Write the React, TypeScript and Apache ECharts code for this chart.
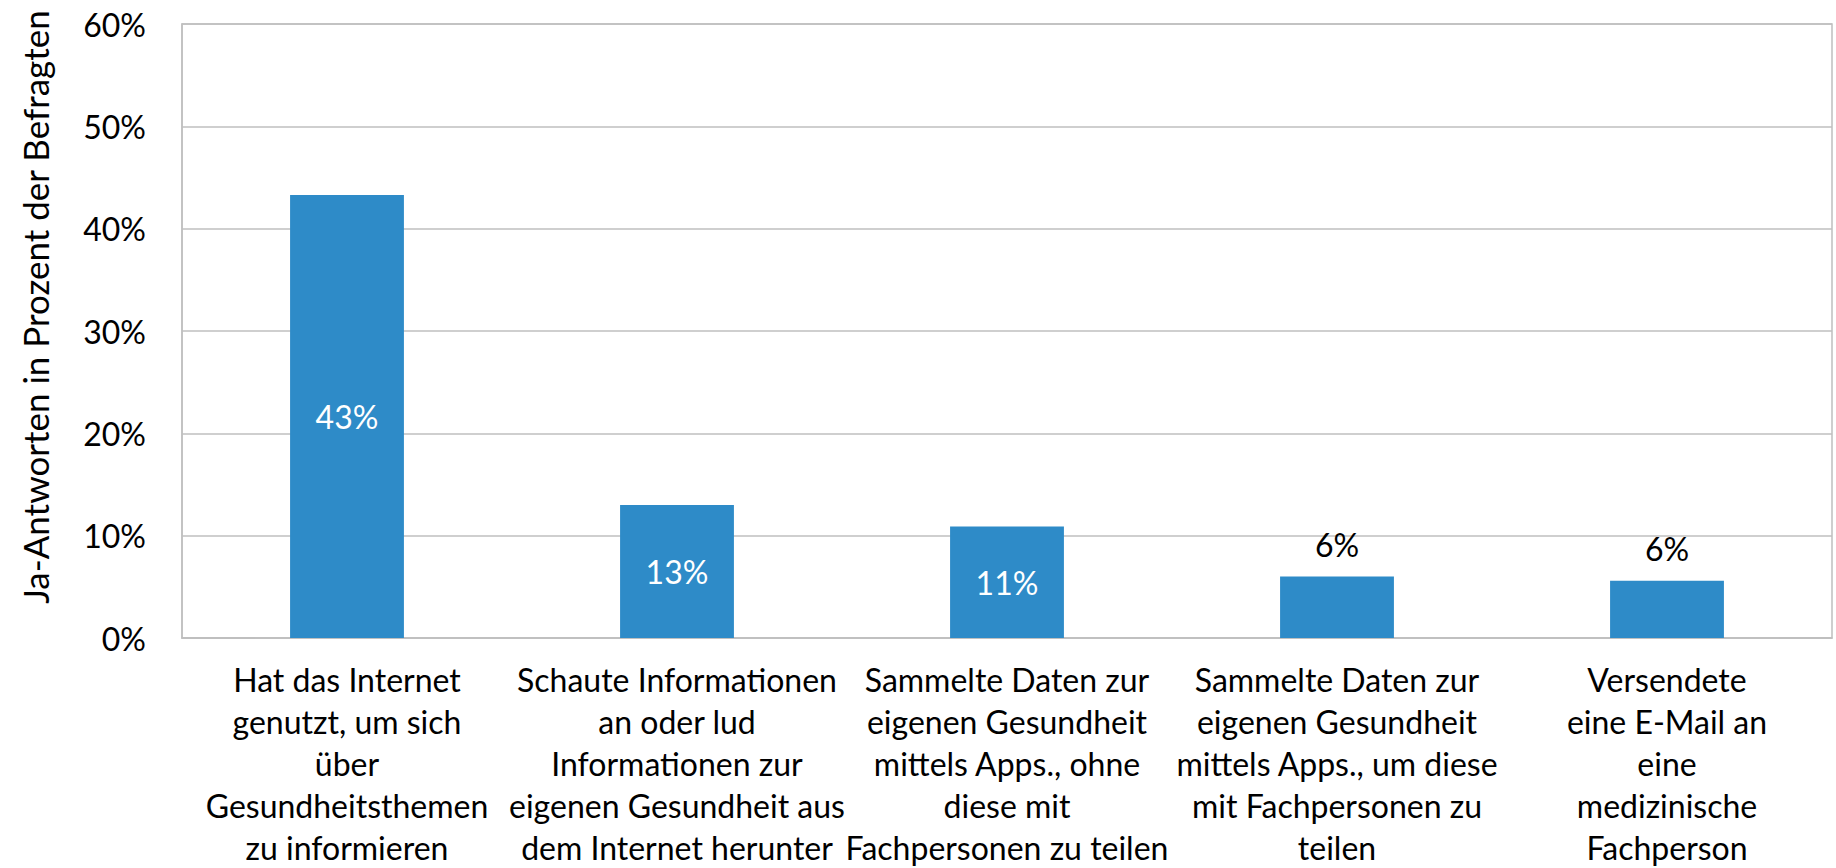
import React, { useEffect, useRef } from "react";
import * as echarts from "echarts";

const categories: string[] = [
  "Hat das Internet\ngenutzt, um sich\nüber\nGesundheitsthemen\nzu informieren",
  "Schaute Informationen\nan oder lud\nInformationen zur\neigenen Gesundheit aus\ndem Internet herunter",
  "Sammelte Daten zur\neigenen Gesundheit\nmittels Apps., ohne\ndiese mit\nFachpersonen zu teilen",
  "Sammelte Daten zur\neigenen Gesundheit\nmittels Apps., um diese\nmit Fachpersonen zu\nteilen",
  "Versendete\neine E-Mail an\neine\nmedizinische\nFachperson",
];

const values: number[] = [43.3, 13.0, 10.9, 6.0, 5.6];

const yTicks = { min: 0, max: 60, interval: 10 };

const yAxisTitle = "Ja-Antworten in Prozent der Befragten";

const FONT = "Lato, 'Open Sans', sans-serif";

export default function App() {
  const ref = useRef<HTMLDivElement>(null);

  useEffect(() => {
    if (!ref.current) return;
    const chart = echarts.init(ref.current, undefined, { renderer: "svg" });
    const data = values.map((v) => {
      const inside = v > 8;
      return {
        value: v,
        label: inside
          ? { position: "inside", color: "#ffffff" }
          : { position: "top", color: "#000000", distance: 16 },
      };
    });
    chart.setOption({
      animation: false,
      backgroundColor: "#ffffff",
      grid: {
        left: 182,
        right: 4,
        top: 24,
        bottom: 225,
        show: true,
        borderColor: "#BFBFBF",
        borderWidth: 1.5,
      },
      xAxis: {
        type: "category",
        data: categories,
        axisLine: { show: true, lineStyle: { color: "#BFBFBF", width: 1.5 } },
        axisTick: { show: false },
        axisLabel: {
          interval: 0,
          margin: 20,
          fontFamily: FONT,
          fontSize: 32,
          lineHeight: 42,
          color: "#000000",
          align: "center",
        },
      },
      yAxis: {
        type: "value",
        min: yTicks.min,
        max: yTicks.max,
        interval: yTicks.interval,
        axisLine: { show: true, lineStyle: { color: "#BFBFBF", width: 1.5 } },
        axisTick: { show: false },
        splitLine: { show: true, lineStyle: { color: "#BFBFBF", width: 1.5 } },
        axisLabel: {
          margin: 36,
          fontFamily: FONT,
          fontSize: 32,
          color: "#000000",
          formatter: (v: number) => `${v}%`,
        },
      },
      graphic: [
        {
          type: "text",
          x: 35,
          y: 307,
          rotation: Math.PI / 2,
          style: {
            text: yAxisTitle,
            fontFamily: FONT,
            fontSize: 35,
            fill: "#000000",
            textAlign: "center",
            textVerticalAlign: "middle",
          },
        },
      ],
      series: [
        {
          type: "bar",
          data,
          barWidth: "34.5%",
          itemStyle: { color: "#2E8BC8" },
          label: {
            show: true,
            fontFamily: FONT,
            fontSize: 32,
            formatter: (p: any) => `${Math.round(p.value)}%`,
          },
        },
      ],
    });
    return () => chart.dispose();
  }, []);

  return (
    <div
      ref={ref}
      style={{ position: "fixed", left: 0, top: 0, width: 1836, height: 868 }}
    />
  );
}
